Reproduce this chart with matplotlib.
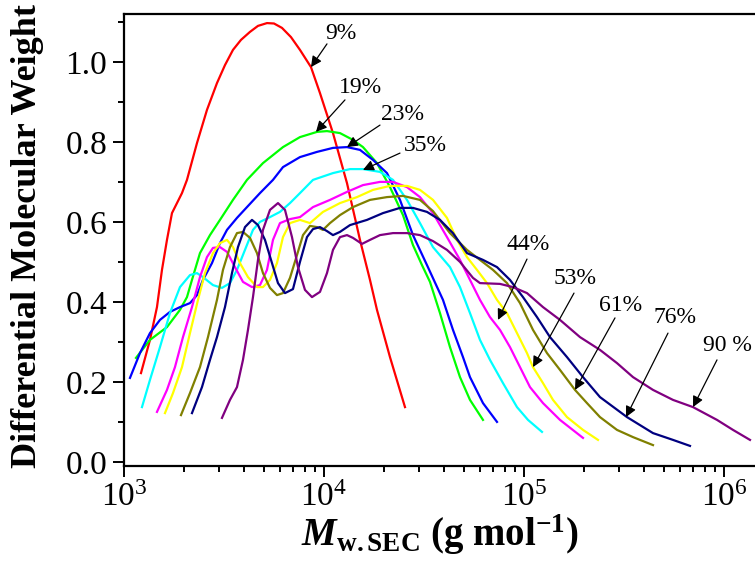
import numpy as np
import matplotlib.pyplot as plt
from matplotlib.ticker import MultipleLocator, LogLocator, NullFormatter

# Times-like fonts everywhere, including the math text of the log tick labels
plt.rcParams['font.family'] = 'Liberation Serif'
plt.rcParams['mathtext.fontset'] = 'custom'
plt.rcParams['mathtext.rm'] = 'Liberation Serif'
plt.rcParams['mathtext.it'] = 'Liberation Serif:italic'
plt.rcParams['mathtext.bf'] = 'Liberation Serif:bold'
plt.rcParams['mathtext.bfit'] = 'Liberation Serif:bold:italic'

# log10(Mw) and differential molecular weight for each conversion
lgm_9 = [3.085, 3.13, 3.165, 3.19, 3.215, 3.24, 3.29, 3.315, 3.365, 3.415, 3.465,
         3.505, 3.545, 3.585, 3.63, 3.67, 3.715, 3.75, 3.79, 3.835, 3.88, 3.935,
         3.98, 4.045, 4.115, 4.18, 4.23, 4.265, 4.33, 4.405]
w_9 = [0.223, 0.306, 0.388, 0.481, 0.556, 0.623, 0.673, 0.706, 0.798, 0.881, 0.948,
       0.993, 1.031, 1.056, 1.076, 1.091, 1.098, 1.097, 1.086, 1.063, 1.031, 0.988,
       0.923, 0.823, 0.698, 0.556, 0.456, 0.381, 0.263, 0.138]

lgm_19 = [3.06, 3.13, 3.215, 3.28, 3.315, 3.34, 3.38, 3.43, 3.48, 3.545, 3.615,
          3.695, 3.795, 3.88, 3.965, 4.015, 4.08, 4.145, 4.195, 4.265, 4.33, 4.395,
          4.445, 4.49, 4.53, 4.58, 4.63, 4.68, 4.73, 4.795]
w_19 = [0.261, 0.306, 0.338, 0.381, 0.413, 0.456, 0.523, 0.568, 0.606, 0.656, 0.706,
        0.748, 0.788, 0.813, 0.826, 0.828, 0.823, 0.806, 0.788, 0.748, 0.688, 0.618,
        0.543, 0.493, 0.451, 0.373, 0.288, 0.213, 0.156, 0.106]

lgm_23 = [3.03, 3.08, 3.13, 3.18, 3.23, 3.28, 3.33, 3.365, 3.395, 3.44, 3.48, 3.515,
          3.565, 3.615, 3.68, 3.745, 3.795, 3.88, 3.965, 4.045, 4.115, 4.18, 4.245,
          4.315, 4.38, 4.445, 4.515, 4.595, 4.645, 4.695, 4.73, 4.795, 4.865]
w_23 = [0.211, 0.273, 0.323, 0.356, 0.376, 0.388, 0.398, 0.418, 0.456, 0.498, 0.548,
        0.581, 0.611, 0.638, 0.673, 0.706, 0.738, 0.763, 0.776, 0.786, 0.788, 0.781,
        0.756, 0.723, 0.656, 0.568, 0.493, 0.406, 0.331, 0.263, 0.213, 0.148, 0.101]

lgm_35 = [3.09, 3.13, 3.18, 3.23, 3.28, 3.33, 3.365, 3.395, 3.445, 3.49, 3.53, 3.565,
          3.605, 3.645, 3.68, 3.73, 3.78, 3.83, 3.88, 3.945, 4.045, 4.13, 4.195, 4.28,
          4.345, 4.415, 4.48, 4.545, 4.63, 4.68, 4.73, 4.78, 4.83, 4.895, 4.965, 5.02,
          5.09]
w_35 = [0.138, 0.206, 0.288, 0.373, 0.438, 0.468, 0.473, 0.463, 0.443, 0.436, 0.448,
        0.481, 0.531, 0.581, 0.601, 0.613, 0.626, 0.648, 0.673, 0.706, 0.723, 0.733,
        0.733, 0.726, 0.706, 0.656, 0.598, 0.538, 0.488, 0.438, 0.373, 0.306, 0.256,
        0.198, 0.138, 0.106, 0.076]

lgm_44 = [3.165, 3.215, 3.255, 3.295, 3.34, 3.38, 3.415, 3.445, 3.48, 3.515, 3.555,
          3.595, 3.64, 3.68, 3.715, 3.745, 3.78, 3.83, 3.88, 3.945, 4.03, 4.115, 4.195,
          4.28, 4.345, 4.415, 4.48, 4.545, 4.615, 4.68, 4.73, 4.78, 4.83, 4.88, 4.93,
          4.98, 5.03, 5.095, 5.18, 5.295]
w_44 = [0.126, 0.181, 0.238, 0.313, 0.388, 0.463, 0.513, 0.536, 0.538, 0.526, 0.488,
        0.451, 0.438, 0.443, 0.481, 0.556, 0.598, 0.608, 0.613, 0.638, 0.656, 0.676,
        0.693, 0.701, 0.701, 0.688, 0.663, 0.623, 0.563, 0.506, 0.456, 0.406, 0.363,
        0.331, 0.288, 0.238, 0.188, 0.148, 0.106, 0.061]

lgm_53 = [3.205, 3.245, 3.29, 3.33, 3.37, 3.405, 3.445, 3.48, 3.515, 3.545, 3.58,
          3.62, 3.665, 3.695, 3.73, 3.765, 3.795, 3.83, 3.88, 3.93, 3.995, 4.08, 4.165,
          4.245, 4.33, 4.415, 4.48, 4.545, 4.615, 4.665, 4.715, 4.765, 4.815, 4.865,
          4.915, 4.965, 5.015, 5.045, 5.095, 5.145, 5.215, 5.295, 5.37]
w_53 = [0.123, 0.173, 0.238, 0.323, 0.406, 0.473, 0.523, 0.548, 0.556, 0.538, 0.498,
        0.463, 0.438, 0.438, 0.456, 0.498, 0.563, 0.598, 0.606, 0.598, 0.626, 0.648,
        0.663, 0.681, 0.691, 0.691, 0.681, 0.656, 0.611, 0.556, 0.513, 0.481, 0.448,
        0.406, 0.373, 0.323, 0.273, 0.238, 0.198, 0.156, 0.113, 0.081, 0.056]

lgm_61 = [3.285, 3.33, 3.38, 3.42, 3.465, 3.495, 3.53, 3.565, 3.595, 3.63, 3.665,
          3.695, 3.73, 3.765, 3.795, 3.83, 3.865, 3.895, 3.93, 3.965, 3.995, 4.03,
          4.08, 4.145, 4.23, 4.315, 4.395, 4.48, 4.545, 4.63, 4.715, 4.78, 4.845,
          4.915, 4.98, 5.045, 5.115, 5.18, 5.255, 5.315, 5.38, 5.465, 5.545, 5.645]
w_61 = [0.118, 0.173, 0.238, 0.313, 0.406, 0.481, 0.538, 0.573, 0.576, 0.561, 0.523,
        0.473, 0.436, 0.418, 0.423, 0.461, 0.518, 0.568, 0.591, 0.588, 0.581, 0.598,
        0.618, 0.638, 0.656, 0.663, 0.666, 0.656, 0.628, 0.573, 0.531, 0.506, 0.481,
        0.448, 0.398, 0.331, 0.273, 0.231, 0.181, 0.148, 0.113, 0.081, 0.063, 0.043]

lgm_76 = [3.34, 3.39, 3.43, 3.465, 3.505, 3.54, 3.57, 3.605, 3.64, 3.67, 3.705, 3.74,
          3.77, 3.805, 3.845, 3.88, 3.915, 3.945, 3.98, 4.015, 4.045, 4.08, 4.13,
          4.215, 4.295, 4.38, 4.445, 4.515, 4.58, 4.645, 4.715, 4.795, 4.865, 4.93,
          4.995, 5.065, 5.13, 5.215, 5.295, 5.38, 5.515, 5.645, 5.745, 5.83]
w_76 = [0.123, 0.188, 0.256, 0.313, 0.388, 0.473, 0.538, 0.588, 0.606, 0.593, 0.556,
        0.498, 0.448, 0.423, 0.433, 0.501, 0.563, 0.583, 0.588, 0.578, 0.568, 0.576,
        0.593, 0.606, 0.623, 0.636, 0.636, 0.626, 0.606, 0.573, 0.523, 0.506, 0.488,
        0.456, 0.413, 0.363, 0.313, 0.263, 0.213, 0.163, 0.113, 0.073, 0.056, 0.041]

lgm_90 = [3.49, 3.53, 3.565, 3.595, 3.62, 3.645, 3.67, 3.695, 3.73, 3.77, 3.805, 3.84,
          3.87, 3.905, 3.94, 3.98, 4.015, 4.045, 4.08, 4.115, 4.145, 4.19, 4.23, 4.28,
          4.345, 4.415, 4.48, 4.545, 4.615, 4.68, 4.745, 4.78, 4.88, 4.945, 5.015,
          5.095, 5.18, 5.28, 5.38, 5.465, 5.545, 5.645, 5.745, 5.845, 5.965, 6.045, 6.13]
w_90 = [0.111, 0.156, 0.188, 0.256, 0.331, 0.413, 0.506, 0.581, 0.631, 0.648, 0.631,
        0.563, 0.488, 0.431, 0.413, 0.426, 0.473, 0.531, 0.563, 0.568, 0.561, 0.546,
        0.556, 0.568, 0.573, 0.573, 0.568, 0.553, 0.531, 0.501, 0.461, 0.448, 0.446,
        0.438, 0.423, 0.388, 0.356, 0.313, 0.281, 0.248, 0.213, 0.181, 0.156, 0.138,
        0.106, 0.081, 0.056]

series = [
    (lgm_9, w_9, '#ff0000'),
    (lgm_19, w_19, '#00ff00'),
    (lgm_23, w_23, '#0000ff'),
    (lgm_35, w_35, '#00ffff'),
    (lgm_44, w_44, '#ff00ff'),
    (lgm_53, w_53, '#ffff00'),
    (lgm_61, w_61, '#808000'),
    (lgm_76, w_76, '#000080'),
    (lgm_90, w_90, '#800080'),
]

# conversion labels: text position, arrow tail, arrow tip (log10 M, weight)
labels = ['9%', '19%', '23%', '35%', '44%', '53%', '61%', '76%', '90 %']
label_pos = [(4.085, 1.072), (4.185, 0.936), (4.395, 0.870), (4.505, 0.793),
             (5.02, 0.545), (5.255, 0.460), (5.485, 0.393), (5.755, 0.361),
             (6.015, 0.293)]
arrow_tail = [(4.015, 1.046), (4.105, 0.906), (4.28, 0.843), (4.38, 0.773),
              (5.015, 0.508), (5.25, 0.423), (5.455, 0.361), (5.72, 0.323),
              (5.965, 0.256)]
arrow_tip = [(3.935, 0.988), (3.96, 0.826), (4.115, 0.788), (4.195, 0.731),
             (4.87, 0.356), (5.045, 0.238), (5.255, 0.181), (5.51, 0.113),
             (5.845, 0.138)]

fig = plt.figure(figsize=(7.55, 5.66), dpi=100)
ax = fig.add_axes([0.1642, 0.1772, 0.8358, 0.7972])

for lgm, w, c in series:
    ax.plot(10 ** np.array(lgm), w, color=c, lw=1.6)

for txt, p, t0, t1 in zip(labels, label_pos, arrow_tail, arrow_tip):
    ax.text(10 ** p[0], p[1], txt, fontsize=17, ha='center', va='center')
    ax.annotate('', xy=(10 ** t1[0], t1[1]), xytext=(10 ** t0[0], t0[1]),
                arrowprops=dict(arrowstyle='-|>', color='black', lw=0.9,
                                mutation_scale=16, shrinkA=0, shrinkB=0))

ax.set_xscale('log')
ax.set_xlim(1e3, 10 ** 6.155)
ax.set_ylim(-0.0085, 1.1195)

ax.xaxis.set_major_locator(LogLocator(base=10, numticks=10))
ax.xaxis.set_minor_locator(LogLocator(base=10, subs=np.arange(2, 10), numticks=20))
ax.xaxis.set_minor_formatter(NullFormatter())
ax.yaxis.set_major_locator(MultipleLocator(0.2))
ax.yaxis.set_minor_locator(MultipleLocator(0.1))
ax.yaxis.set_major_formatter(lambda v, pos: f'{v:.1f}')

ax.spines['right'].set_visible(False)
for side in ['left', 'bottom', 'top']:
    ax.spines[side].set_linewidth(1.6)
ax.tick_params(which='both', direction='out', width=1.4, top=False, right=False,
               labelsize=24)
ax.tick_params(which='major', length=8, pad=4)
ax.tick_params(which='minor', length=4.5)

ax.set_ylabel('Differential Molecular Weight', fontsize=26, fontweight='bold')
ax.yaxis.set_label_coords(-0.127, 0.508)
ax.set_xlabel(r'$\mathbfit{M}_{\mathbf{w.SEC}}$ (g mol$^{\mathbf{-1}}$)',
              fontsize=28, fontweight='bold', labelpad=0)

fig.savefig('out.png', dpi=100)
